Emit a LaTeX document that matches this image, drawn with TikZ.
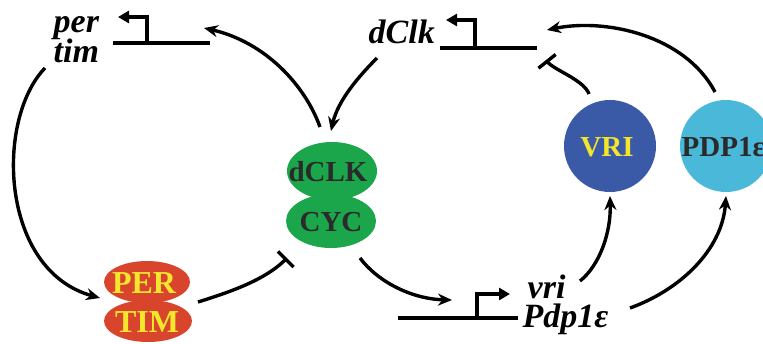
\documentclass[tikz,border=0pt]{standalone}
\usepackage{fontspec}
\setmainfont{Liberation Serif}
\usetikzlibrary{arrows.meta,shapes.geometric}
\definecolor{cgreen}{HTML}{1CA64C}
\definecolor{cred}{HTML}{D9452C}
\definecolor{cyel}{HTML}{F4E62C}
\definecolor{cblue}{HTML}{3A5AA8}
\definecolor{ccyan}{HTML}{4AB8D9}
\definecolor{cdark}{HTML}{2A2A2A}
\tikzset{
  gene/.style={font=\fontsize{34}{30}\selectfont\bfseries\itshape, text=black, inner sep=0pt},
  prot/.style={font=\fontsize{29}{30}\selectfont\bfseries, inner sep=0pt},
  protbig/.style={font=\fontsize{32}{30}\selectfont\bfseries, inner sep=0pt},
  blob/.style={ellipse, draw=none, inner sep=0pt},
  ball/.style={circle, draw=none, inner sep=0pt, minimum size=92pt},
  act/.style={-{Stealth[length=14pt,width=12pt]}},
  inh/.style={-{Bar[width=22pt]}},
  dna/.style={line width=3.3pt},
  tss/.style={-{Triangle[length=11pt,width=12pt]}, line width=3.3pt},
}
\begin{document}
\begin{tikzpicture}[x=1pt,y=-1pt,line width=3.4pt]
\useasboundingbox (0,0) rectangle (763,343);
\clip (0,0) rectangle (763,343);
% proteins
\node[blob, fill=cgreen, minimum width=90pt, minimum height=58pt] (clk) at (332,171) {};
\node[blob, fill=cgreen, minimum width=90pt, minimum height=54pt] (cyc) at (331,221) {};
\node[prot, text=cdark] at (328,172) {dCLK};
\node[prot, text=cdark] at (331,222) {CYC};
\node[blob, fill=cred, minimum width=86pt, minimum height=42pt] (per) at (147,282) {};
\node[blob, fill=cred, minimum width=88pt, minimum height=42pt] (tim) at (148,321) {};
\node[protbig, text=cyel] at (144,283) {PER};
\node[protbig, text=cyel] at (147,322) {TIM};
\node[ball, fill=cblue] (vri) at (610,146) {};
\node[prot, text=cyel] at (607,147) {VRI};
\node[ball, fill=ccyan] (pdp) at (726,146) {};
\node[prot, text=cdark, anchor=west] at (680,147) {PDP1ε};
% genes
\node[gene, anchor=base west] (pergene) at (52,32) {per};
\node[gene, anchor=base west] (timgene) at (52,62) {tim};
\node[gene, anchor=base west] (clkgene) at (367,43) {dClk};
\node[gene, anchor=base west] (vrigene) at (526,298) {vri};
\node[gene, anchor=base west] (pdpgene) at (521,327) {Pdp1ε};
% promoters
\coordinate (p1a) at (113,43); \coordinate (p1b) at (210,43);
\draw[dna] (p1a) -- (p1b);
\draw[tss] (147,43) -- (147,17) -- (118,17);
\coordinate (p2a) at (440,48); \coordinate (p2b) at (537,48);
\draw[dna] (p2a) -- (p2b);
\draw[tss] (475,48) -- (475,20) -- (446,20);
\coordinate (p3a) at (398,318); \coordinate (p3b) at (518,318);
\draw[dna] (p3a) -- (p3b);
\draw[tss] (477,318) -- (477,294) -- (510,294);
% connector end points
\coordinate (s1) at (45,68);   \coordinate (e1) at (100,298);
\coordinate (s2) at (320,127); \coordinate (e2) at (204,28);
\coordinate (s3) at (377,58);  \coordinate (e3) at (331,131);
\coordinate (s4) at (198,302); \coordinate (e4) at (287,258);
\coordinate (s5) at (360,258); \coordinate (e5) at (452,300);
\coordinate (s6) at (580,281); \coordinate (e6) at (610,196);
\coordinate (s7) at (630,308); \coordinate (e7) at (726,196);
\coordinate (s8) at (589,94);  \coordinate (e8) at (546,60);
\coordinate (s9) at (715,92);  \coordinate (e9) at (547,30);
% connectors
\draw[act] (s1) .. controls (-5,120) and (0,270) .. (e1);
\draw[act] (s2) .. controls (305,85) and (265,42) .. (e2);
\draw[act] (s3) .. controls (360,75) and (338,100) .. (e3);
\draw[inh] (s4) .. controls (230,292) and (265,280) .. (e4);
\draw[act] (s5) .. controls (378,282) and (412,299) .. (e5);
\draw[act] (s6) .. controls (600,265) and (611,232) .. (e6);
\draw[act] (s7) .. controls (680,290) and (722,250) .. (e7);
\draw[inh] (s8) .. controls (584,80) and (554,70) .. (e8);
\draw[act] (s9) .. controls (685,35) and (605,18) .. (e9);
\end{tikzpicture}
\end{document}
